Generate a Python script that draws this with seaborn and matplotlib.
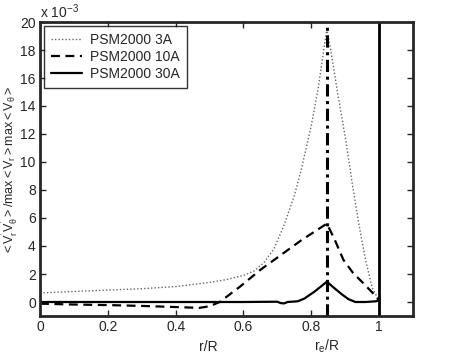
import numpy as np
import pandas as pd
import matplotlib
matplotlib.use("Agg")
import matplotlib.pyplot as plt
import seaborn as sns

# data (values in units of 1e-3)
x_3a = [0, 0.1, 0.2, 0.3, 0.4, 0.45, 0.5, 0.55, 0.6, 0.63, 0.66, 0.69, 0.72, 0.75, 0.77, 0.8, 0.82, 0.846,
        0.86, 0.88, 0.9, 0.92, 0.94, 0.96, 0.98, 1.0]
y_3a = [0.65, 0.75, 0.85, 0.95, 1.1, 1.25, 1.4, 1.6, 1.9, 2.2, 2.8, 3.8, 5.5, 7.6, 9.4, 12.6, 15.2, 19.5,
        17.6, 14.6, 11.8, 8.6, 5.6, 3.0, 1.0, 0.1]
x_10a = [0, 0.1, 0.2, 0.3, 0.4, 0.47, 0.5, 0.53, 0.59, 0.65, 0.71, 0.77, 0.846, 0.87, 0.895, 0.924, 0.954, 0.983, 1.0]
y_10a = [-0.12, -0.18, -0.22, -0.28, -0.36, -0.42, -0.3, 0.0, 1.1, 2.3, 3.35, 4.4, 5.6, 4.4, 3.0, 2.05, 1.33, 0.6, 0.1]
x_30a = [0, 0.2, 0.4, 0.6, 0.7, 0.71, 0.72, 0.73, 0.76, 0.78, 0.81, 0.846, 0.87, 0.89, 0.91, 0.93, 0.96, 0.99, 1.0]
y_30a = [0.0, 0.0, 0.0, 0.0, 0.02, -0.08, -0.1, 0.0, 0.05, 0.25, 0.75, 1.45, 0.95, 0.55, 0.2, 0.0, 0.0, 0.05, 0.1]
series_names = ["PSM2000 3A", "PSM2000 10A", "PSM2000 30A"]
x_re = 0.846
x_wall = 1.0
x_ticks = [0, 0.2, 0.4, 0.6, 0.8, 1]
y_ticks = [0, 2, 4, 6, 8, 10, 12, 14, 16, 18, 20]

df = pd.concat([
    pd.DataFrame({"x": x_3a, "y": y_3a, "s": series_names[0]}),
    pd.DataFrame({"x": x_10a, "y": y_10a, "s": series_names[1]}),
    pd.DataFrame({"x": x_30a, "y": y_30a, "s": series_names[2]}),
])

sns.set_style("ticks")
plt.rcParams["font.family"] = ["Liberation Sans", "DejaVu Sans"]
plt.rcParams["mathtext.fontset"] = "custom"
plt.rcParams["mathtext.rm"] = "Liberation Sans"
plt.rcParams["mathtext.it"] = "Liberation Sans"

fig = plt.figure(figsize=(4.62, 3.56), dpi=100)
ax = fig.add_axes([40/462, 1-316/356, (413-40)/462, (316-22)/356])

styles = {series_names[0]: dict(ls=(0, (1, 1.5)), lw=1.0, color="#666666"),
          series_names[1]: dict(ls=(0, (4, 2.5)), lw=1.6, color="black"),
          series_names[2]: dict(ls="-", lw=1.6, color="black")}
for name in series_names:
    sub = df[df["s"] == name]
    sns.lineplot(data=sub, x="x", y="y", ax=ax, label=name, sort=False,
                 estimator=None, **styles[name])

ax.axvline(x_re, color="black", lw=2.2, ls=(0, (4, 1.5, 1, 1.5)))
ax.axvline(x_wall, color="black", lw=2.0)

ax.set_xlim(0, 1.1)
ax.set_ylim(-1, 20)
ax.set_xticks(x_ticks)
ax.set_xticklabels(["0", "0.2", "0.4", "0.6", "0.8", "1"])
ax.set_yticks(y_ticks)
ax.set_yticklabels([str(v) for v in y_ticks])
ax.tick_params(direction="in", length=4, width=1, labelsize=10, top=True, right=True, pad=3)
for sp in ax.spines.values():
    sp.set_visible(True)
    sp.set_linewidth(2)
ax.set_xlabel("")
ax.set_ylabel("")
fig.text(10/462, 1-170/356, r"$<V_r^{'}V_\theta^{'}>$/max$<V_r>$max$<V_\theta>$",
         rotation=90, ha="center", va="center", fontsize=9)

ax.text(0.0, 1.005, r"x 10$^{-3}$", transform=ax.transAxes, fontsize=10, ha="left", va="bottom")
ax.text(0.451, -0.08, "r/R", transform=ax.transAxes, fontsize=10, ha="center", va="top")
ax.text(x_re, -0.075, r"r$_e$/R", transform=ax.get_xaxis_transform(), fontsize=10, ha="center", va="top")

leg = ax.legend(loc="upper left", fontsize=10, frameon=True, fancybox=False,
                borderaxespad=0.3, handlelength=2.2, handletextpad=0.6,
                labelspacing=0.2, borderpad=0.5)
leg.get_frame().set_edgecolor("black")
leg.get_frame().set_linewidth(1.0)

fig.savefig("out.png", dpi=100)
